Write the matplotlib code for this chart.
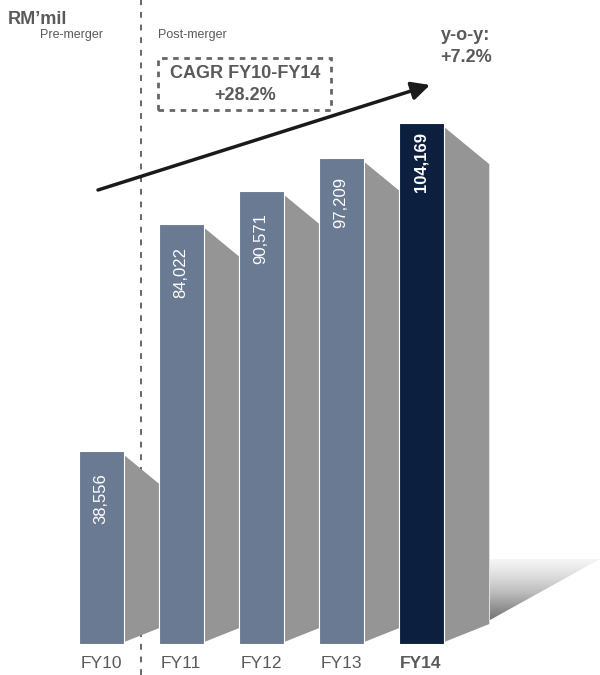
import matplotlib.pyplot as plt
import numpy as np
from matplotlib.patches import Polygon, Rectangle

plt.rcParams['font.family'] = ['Liberation Sans', 'DejaVu Sans']

years = ['FY10', 'FY11', 'FY12', 'FY13', 'FY14']
revenue = [38556, 84022, 90571, 97209, 104169]
value_labels = ['38,556', '84,022', '90,571', '97,209', '104,169']

BAR = '#6a7a93'
BAR_LAST = '#0c1f3f'
SIDE = '#959595'
TEXT = '#5a5a5a'

W = 0.5625      # bar width in category units
PX_Y = 200      # value units per pixel vertically
LABEL_GAP = [22, 23, 22, 19, 9]   # px from bar top to its value label


def main():
    fig = plt.figure(figsize=(6, 6.75), dpi=100)
    ax = fig.add_axes([0, 0, 1, 1])
    ax.set_xlim(-101 / 80, 499 / 80)
    ax.set_ylim(-31 * PX_Y, 644 * PX_Y)
    ax.axis('off')

    x = np.arange(len(years))

    # slanted grey side faces behind each bar
    for xi, v in zip(x, revenue):
        l = xi + W / 2 + 0.01
        r = l + W
        side = Polygon([(l, v - 4 * PX_Y), (r, v - 41 * PX_Y),
                        (r, 20 * PX_Y), (l, 2 * PX_Y)],
                       closed=True, facecolor=SIDE, edgecolor='none', zorder=1)
        ax.add_patch(side)

    colors = [BAR] * (len(years) - 1) + [BAR_LAST]
    ax.bar(x, revenue, width=W, color=colors, edgecolor='white',
           linewidth=0.8, zorder=2)

    for xi, v, lab, yr, gap in zip(x, revenue, value_labels, years, LABEL_GAP):
        bold = yr == years[-1]
        ax.text(xi, v - gap * PX_Y, lab, rotation=90, ha='center', va='top',
                color='white', fontsize=12,
                fontweight='bold' if bold else 'normal', zorder=3)
        ax.text(xi, -19 * PX_Y, yr, ha='center', va='center', color=TEXT,
                fontsize=12.5, fontweight='bold' if bold else 'normal')

    # gradient floor piece at the right
    fx0 = (490 - 101) / 80
    fx1 = (600 - 101) / 80
    fy_top = (644 - 559) * PX_Y
    fy_bot = (644 - 620) * PX_Y
    grad = np.linspace(1, 0, 256).reshape(-1, 1)
    im = ax.imshow(grad, cmap='Greys', vmin=-0.15, vmax=1.7,
                   extent=[fx0, fx1, fy_bot, fy_top], origin='lower',
                   aspect='auto', zorder=1)
    floor = Polygon([(fx0, fy_top), (fx1, fy_top), (fx0, fy_bot)],
                    closed=True, facecolor='none', edgecolor='none')
    ax.add_patch(floor)
    im.set_clip_path(floor)

    # merger split
    ax.axvline(0.5, color='#666666', linestyle=(0, (3, 3.5)), linewidth=1.4,
               zorder=0)

    def fig_xy(px, py):
        return px / 600, 1 - py / 675

    fig.text(*fig_xy(8, 19), 'RM\u2019mil', fontsize=13, fontweight='bold',
             color=TEXT, va='center')
    fig.text(*fig_xy(40, 35), 'Pre-merger', fontsize=9, color=TEXT, va='center')
    fig.text(*fig_xy(158, 35), 'Post-merger', fontsize=9, color=TEXT,
             va='center')

    bx, by = fig_xy(158, 110)
    box = Rectangle((bx, by), 173 / 600, 52 / 675, transform=fig.transFigure,
                    facecolor='none', edgecolor='#666666', linewidth=2,
                    linestyle=(0, (2, 2)))
    fig.patches.append(box)
    fig.text(*fig_xy(245, 74), 'CAGR FY10-FY14', fontsize=13,
             fontweight='bold', color=TEXT, ha='center', va='center')
    fig.text(*fig_xy(245, 96), '+28.2%', fontsize=13, fontweight='bold',
             color=TEXT, ha='center', va='center')

    fig.text(*fig_xy(466, 35), 'y-o-y:', fontsize=13, fontweight='bold',
             color=TEXT, ha='center', va='center')
    fig.text(*fig_xy(466, 57), '+7.2%', fontsize=13, fontweight='bold',
             color=TEXT, ha='center', va='center')

    ax.annotate('', xy=fig_xy(430, 85), xytext=fig_xy(98, 190),
                xycoords='figure fraction', textcoords='figure fraction',
                arrowprops=dict(arrowstyle='-|>,head_length=1.1,head_width=0.55',
                                color='#1a1a1a', lw=2.5,
                                shrinkA=0, shrinkB=0))

    fig.savefig('out.png', dpi=100)


if __name__ == "__main__":
    main()
